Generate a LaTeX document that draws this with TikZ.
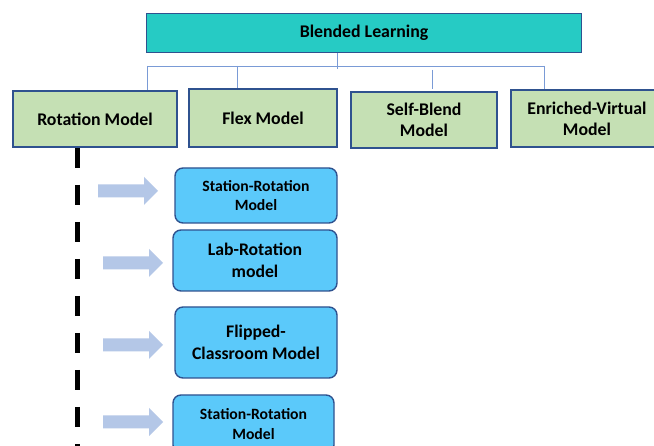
\documentclass[tikz,border=0pt]{standalone}
\usepackage{fontspec}
\setmainfont{Carlito}
\usetikzlibrary{calc}
\definecolor{tealfill}{HTML}{26CBC4}
\definecolor{boxline}{HTML}{2F528F}
\definecolor{greenfill}{HTML}{C5E0B4}
\definecolor{skyfill}{HTML}{5BC9FA}
\definecolor{arrowfill}{HTML}{B4C7E7}
\definecolor{treeline}{HTML}{7A9BD6}
\tikzset{
  headbox/.style={draw=boxline, line width=1.8pt, fill=tealfill, minimum width=435pt, minimum height=39pt,
    font=\bfseries\fontsize{17.8}{21}\selectfont, inner sep=0pt},
  modelbox/.style={draw=boxline, line width=1.8pt, fill=greenfill, align=center,
    font=\bfseries\fontsize{17.8}{21}\selectfont, inner sep=0pt},
  subbox/.style={draw=boxline, line width=1.4pt, fill=skyfill, rounded corners=8pt, align=center, inner sep=0pt},
  smalltext/.style={font=\bfseries\fontsize{15.7}{19.5}\selectfont},
  bigtext/.style={font=\bfseries\fontsize{17.7}{22}\selectfont},
  tree/.style={draw=treeline, line width=0.9pt},
  pics/blockarrow/.style={code={
    \fill[arrowfill] (0,-6.5) -- (46,-6.5) -- (46,-14) -- (60,0) -- (46,14) -- (46,6.5) -- (0,6.5) -- cycle;
  }}
}
\begin{document}
\begin{tikzpicture}[x=1pt,y=-1pt]
\useasboundingbox (0,0) rectangle (654,446);
\fill[white] (0,0) rectangle (654,446);

% top of the hierarchy
\node[headbox] (top) at (364,33) {Blended Learning};

% the four models
\node[modelbox, minimum width=164pt, minimum height=56pt] (rot)  at (95,119) {Rotation Model};
\node[modelbox, minimum width=148pt, minimum height=58pt] (flex) at (263,118) {Flex Model};
\node[modelbox, minimum width=146pt, minimum height=56pt] (self) at (424,120) {Self-Blend\\Model};
\node[modelbox, minimum width=152pt, minimum height=57pt] (env)  at (587,118.5) {Enriched-Virtual\\Model};

% tree connectors
\coordinate (stem) at (337,53);
\coordinate (busA) at (147,66);
\coordinate (busB) at (237,66);
\coordinate (busC) at (432,66);
\coordinate (busD) at (544,66);
\draw[tree] (stem) -- ++(0,16);
\draw[tree] (busA) -- (busD);
\draw[tree] (busA) -- (busA |- rot.north);
\draw[tree] (busB) -- (busB |- flex.north);
\draw[tree] ($(busC)+(0,4)$) -- ($(busC |- self.north)+(0,-2)$);
\draw[tree] (busD) -- (busD |- env.north);

% rotation sub-models
\node[subbox, smalltext, minimum width=162pt, minimum height=55pt] (s1) at (256,195.5) {Station-Rotation\\Model};
\node[subbox, bigtext, minimum width=164pt, minimum height=61pt] (s2) at (255,260.5) {Lab-Rotation\\model};
\node[subbox, bigtext, minimum width=162pt, minimum height=71pt] (s3) at (256,342.5) {Flipped-\\Classroom Model};
\node[subbox, smalltext, minimum width=161pt, minimum height=58pt] (s4) at (253.5,424) {Station-Rotation\\Model};

% dashed spine under the rotation model
\coordinate (spineTop) at (77,147);
\coordinate (spineEnd) at (77,452);
\draw[line width=5pt, dash pattern=on 20pt off 17pt] (spineTop |- rot.south) -- (spineEnd);

% block arrows
\pic at (98,191) {blockarrow};
\pic at (103,263) {blockarrow};
\pic at (103,345) {blockarrow};
\pic at (103,422) {blockarrow};
\end{tikzpicture}
\end{document}
